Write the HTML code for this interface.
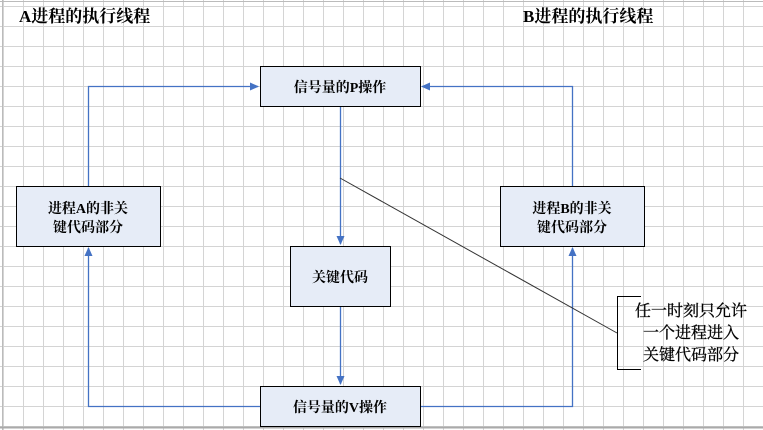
<!DOCTYPE html>
<html><head><meta charset="utf-8"><style>
html,body{margin:0;padding:0;background:#fff;}
svg{display:block;}
text{font-family:"Liberation Serif","Noto Serif CJK SC","Noto Sans CJK SC",serif;font-weight:bold;fill:#000;}
</style></head><body>
<svg width="763" height="430" viewBox="0 0 763 430" xmlns="http://www.w3.org/2000/svg">
<defs>
<pattern id="g" x="3" y="6" width="20" height="20" patternUnits="userSpaceOnUse">
<path d="M0.5 0V20M0 0.5H20" stroke="#d4d4d4" stroke-width="1" fill="none"/>
</pattern>
<marker id="a" markerWidth="10" markerHeight="10" refX="8" refY="4" orient="auto" markerUnits="userSpaceOnUse">
<path d="M0 0L9 4L0 8z" fill="#4472c4"/>
</marker>
</defs>
<rect x="0" y="0" width="763" height="430" fill="url(#g)"/>
<line x1="0" y1="1.5" x2="763" y2="1.5" stroke="#bbb"/>
<line x1="2.5" y1="0" x2="2.5" y2="430" stroke="#bbb"/>
<line x1="0" y1="427.5" x2="763" y2="427.5" stroke="#aaa" stroke-width="2"/>
<text x="19" y="22" font-size="17">A进程的执行线程</text>
<text x="523" y="22" font-size="17">B进程的执行线程</text>
<g stroke="#4472c4" stroke-width="1.3" fill="none">
<path d="M88.5 186V86.5H258" marker-end="url(#a)"/>
<path d="M572.5 186V86.5H422" marker-end="url(#a)"/>
<path d="M340.5 106V244" marker-end="url(#a)"/>
<path d="M340.5 306V384" marker-end="url(#a)"/>
<path d="M260 406.5H88.5V248" marker-end="url(#a)"/>
<path d="M420 406.5H572.5V248" marker-end="url(#a)"/>
</g>
<line x1="340" y1="178" x2="617" y2="333" stroke="#333" stroke-width="1"/>
<path d="M641 296.5H617.5V369.5H641" stroke="#000" fill="none"/>
<g stroke="#000" stroke-width="1" fill="#e6ecf7">
<rect x="260.5" y="66.5" width="160" height="40"/>
<rect x="16.5" y="186.5" width="144" height="60"/>
<rect x="500.5" y="186.5" width="144" height="60"/>
<rect x="290.5" y="246.5" width="100" height="60"/>
<rect x="260.5" y="386.5" width="160" height="40"/>
</g>
<g font-size="14" text-anchor="middle">
<text x="340" y="92">信号量的P操作</text>
<text x="88" y="213">进程A的非关</text>
<text x="88" y="232">键代码部分</text>
<text x="572" y="213">进程B的非关</text>
<text x="572" y="232">键代码部分</text>
<text x="340" y="282">关键代码</text>
<text x="340" y="412">信号量的V操作</text>
</g>
<g font-size="16" text-anchor="middle">
<text x="691" y="316" style="font-weight:normal;stroke:#000;stroke-width:0.3">任一时刻只允许</text>
<text x="691" y="338" style="font-weight:normal;stroke:#000;stroke-width:0.3">一个进程进入</text>
<text x="691" y="360" style="font-weight:normal;stroke:#000;stroke-width:0.3">关键代码部分</text>
</g>
</svg>
</body></html>
